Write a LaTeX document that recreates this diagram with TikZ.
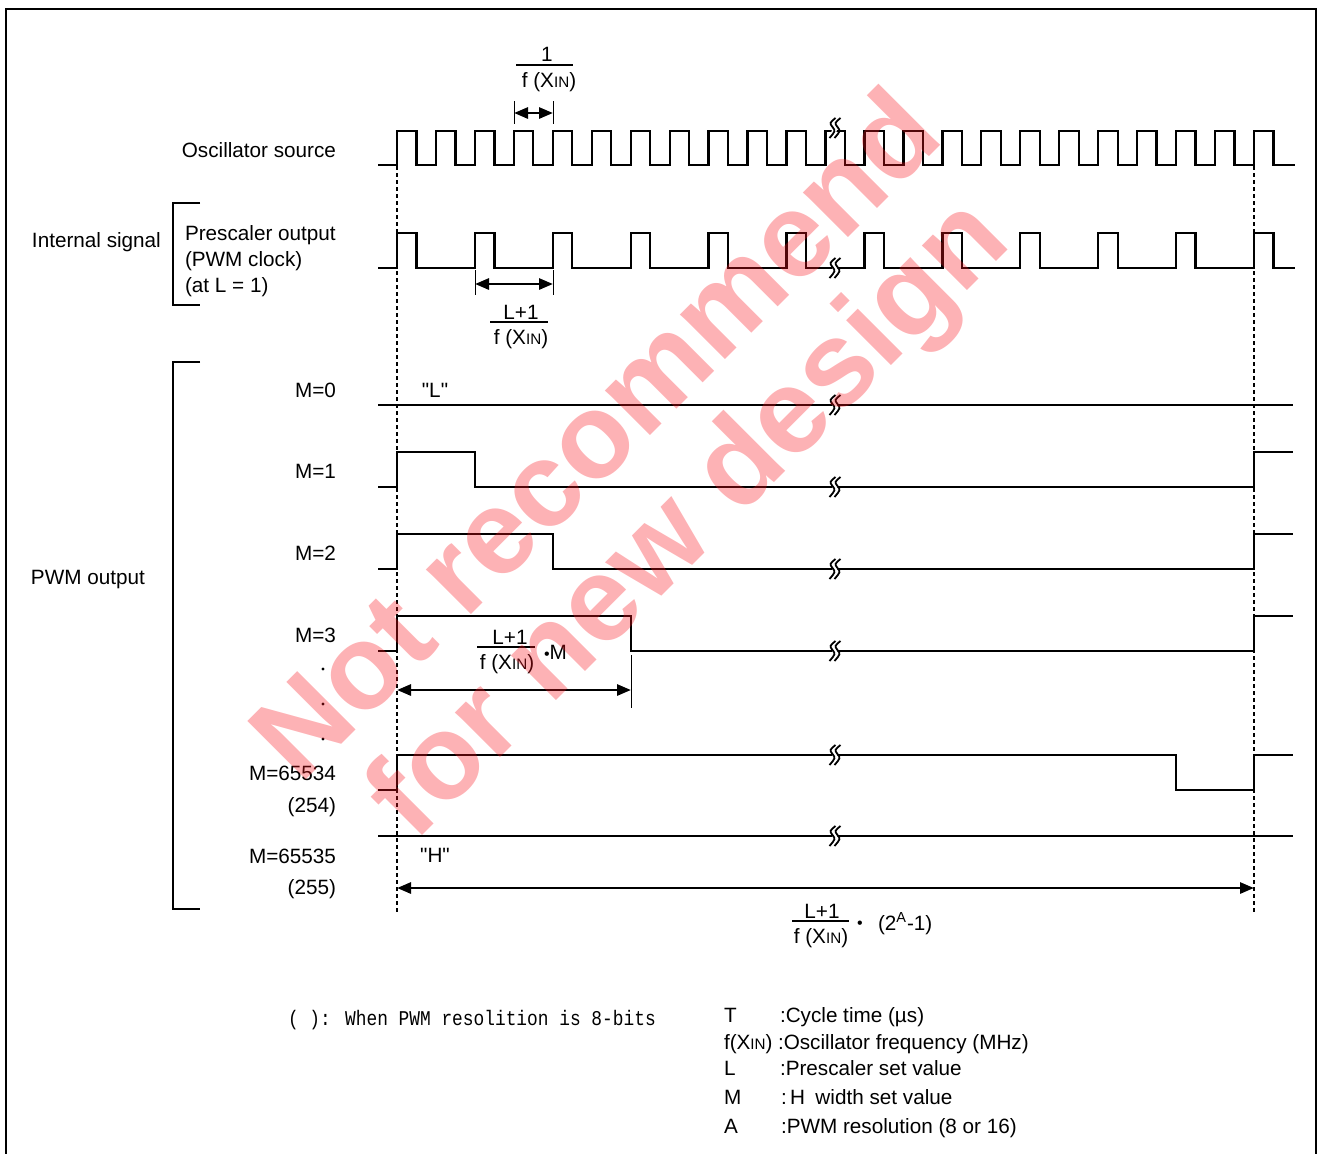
\documentclass[tikz,border=0pt]{standalone}
\usepackage{fontspec}
\setmainfont{Liberation Sans}[Ligatures=TeXOff]
\newfontfamily\notefont[FakeStretch=0.85]{Liberation Mono}
\usetikzlibrary{arrows.meta}
\definecolor{wmred}{RGB}{250,20,30}

\newcommand{\xin}{X{\fontsize{7.6}{8}\selectfont IN}}
\newcommand{\mdot}{{\fontsize{8}{8}\selectfont\textbullet}}

\begin{document}
\begin{tikzpicture}[x=0.5pt, y=-0.5pt, line width=1pt,
    lbl/.style={font=\fontsize{10.35}{12}\selectfont, inner sep=0pt},
    wave/.style={line width=1.15pt, line join=miter},
    guide/.style={dash pattern=on 2pt off 1.5pt, line width=0.8pt},
    dim/.style={{Triangle[length=7pt,width=5.5pt]}-{Triangle[length=7pt,width=5.5pt]}, line width=1.4pt},
    tick/.style={line width=0.5pt},
    bar/.style={line width=0.6pt},
    brk/.pic={
        \fill[white] (0.5,-10) -- (5.5,-10) -- (-0.5,10) -- (-5.5,10) -- cycle;
        \foreach \d in {-2.5,2.5}
            \draw[line width=0.9pt] (\d+3,-10) .. controls (\d-3,-5) .. (\d,-1) .. controls (\d+3,3) .. (\d-3,10);
    }]
    \useasboundingbox (0,0) rectangle (1318,1153);
    \draw[line width=1.1pt] (6,9) rectangle (1316,1165);

    % oscillator and prescaler
    \draw[wave] (378,165) -- (397,165)
        \foreach \k in {0,...,21} { -- ++(0,-34) -- ++(19.477,0) -- ++(0,34) -- ++(19.477,0) }
        -- ++(0,-34) -- ++(19.5,0) -- ++(0,34) -- (1295,165);
    \draw[wave] (378,268) -- (397,268)
        \foreach \k in {0,...,10} { -- ++(0,-35) -- ++(19.477,0) -- ++(0,35) -- ++(58.432,0) }
        -- ++(0,-35) -- ++(19.5,0) -- ++(0,35) -- (1295,268);

    % pwm outputs
    \draw[wave] (378,405) -- (1293,405);
    \foreach \m/\lo in {1/487, 2/569, 3/651}
        \draw[wave] (378,\lo) -- (397,\lo) -- (397,\lo-35) -- (397+77.909*\m,\lo-35)
            -- (397+77.909*\m,\lo) -- (1254,\lo) -- (1254,\lo-35) -- (1293,\lo-35);
    \draw[wave] (378,790) -- (397,790) -- (397,755) -- (1176,755) -- (1176,790)
        -- (1254,790) -- (1254,755) -- (1293,755);
    \draw[wave] (378,836) -- (1293,836);

    \foreach \y in {128,268,405,487,569,651,755,836}
        \pic at (835,\y) {brk};

    \draw[guide] (397,166) -- (397,912);
    \draw[guide] (1254,166) -- (1254,912);

    % dimensions
    \coordinate (ta) at (514,113);
    \coordinate (tb) at (553,113);
    \draw[tick] (514,101) -- (514,124);
    \draw[tick] (553,101) -- (553,124);
    \draw[dim] (ta) -- (tb);
    \node[lbl, anchor=base] (n1num) at (547,61) {1};
    \draw[bar] (516,65) -- (573,65);
    \node[lbl, anchor=base] (n1den) at (549,87) {f (\xin)};

    \coordinate (pa) at (475,284);
    \coordinate (pb) at (553,284);
    \draw[tick] (475,270) -- (475,295);
    \draw[tick] (553,270) -- (553,295);
    \draw[dim] (pa) -- (pb);
    \node[lbl, anchor=base] (n2num) at (521,319) {L+1};
    \draw[bar] (490,322) -- (548,322);
    \node[lbl, anchor=base] (n2den) at (521,344) {f (\xin)};

    \coordinate (ma) at (397,690);
    \coordinate (mb) at (631,690);
    \draw[tick] (631,655) -- (631,708);
    \draw[dim] (ma) -- (mb);
    \node[lbl, anchor=base] (n3num) at (510,644) {L+1};
    \draw[bar] (477,647) -- (535,647);
    \node[lbl, anchor=base] (n3den) at (507,669) {f (\xin)};
    \node[lbl, anchor=base west] (n3m) at (543,659) {\mdot M};

    \coordinate (ba) at (397,888);
    \coordinate (bb) at (1254,888);
    \draw[dim] (ba) -- (bb);
    \node[lbl, anchor=base] (n4num) at (822,918) {L+1};
    \draw[bar] (792,921) -- (849,921);
    \node[lbl, anchor=base] (n4den) at (821,943) {f (\xin)};
    \node[lbl, anchor=base] (n4dot) at (860,928) {\mdot};
    \node[lbl, anchor=base west] (n4exp) at (877,930) {(2\textsuperscript{A}-1)};

    % left labels
    \node[lbl, anchor=base east] (osc) at (337,157) {Oscillator source};
    \node[lbl, anchor=base west] (intsig) at (31,247) {Internal signal};
    \draw (200,203) -- (173,203) -- (173,305) -- (200,305);
    \node[lbl, anchor=base west] (pre1) at (184,240) {Prescaler output};
    \node[lbl, anchor=base west] (pre2) at (184,266) {(PWM clock)};
    \node[lbl, anchor=base west] (pre3) at (184,292) {(at L = 1)};
    \node[lbl, anchor=base west] (pwm) at (30,584) {PWM output};
    \draw (200,362) -- (173,362) -- (173,909) -- (200,909);

    \node[lbl, anchor=base east] (m0) at (337,397) {M=0};
    \node[lbl, anchor=base east] (m1) at (337,478) {M=1};
    \node[lbl, anchor=base east] (m2) at (337,560) {M=2};
    \node[lbl, anchor=base east] (m3) at (337,642) {M=3};
    \node[lbl, anchor=base east] (m4) at (337,780) {M=65534};
    \node[lbl, anchor=base east] (m4b) at (337,812) {(254)};
    \node[lbl, anchor=base east] (m5) at (337,863) {M=65535};
    \node[lbl, anchor=base east] (m5b) at (337,894) {(255)};
    \foreach \y in {669,704,739}
        \fill (323,\y) circle (1.6);
    \node[lbl, anchor=base] (lowL) at (435,397) {"L"};
    \node[lbl, anchor=base] (highH) at (435,862) {"H"};

    % notes
    \node[inner sep=0pt, anchor=base west, font={\notefont\fontsize{10.5}{12}\selectfont}] (note)
        at (287,1025) {( ): When PWM resolition is 8-bits};
    \node[lbl, anchor=base west] (kT) at (723,1022) {T};
    \node[lbl, anchor=base west] (vT) at (779,1022) {:Cycle time (µs)};
    \node[lbl, anchor=base west] (kF) at (723,1049) {f(\xin)};
    \node[lbl, anchor=base west] (vF) at (777,1049) {:Oscillator frequency (MHz)};
    \node[lbl, anchor=base west] (kL) at (723,1075) {L};
    \node[lbl, anchor=base west] (vL) at (779,1075) {:Prescaler set value};
    \node[lbl, anchor=base west] (kM) at (723,1104) {M};
    \node[lbl, anchor=base west] (vM) at (780,1104) {:\,H\enspace width set value};
    \node[lbl, anchor=base west] (kA) at (723,1133) {A};
    \node[lbl, anchor=base west] (vA) at (780,1133) {:PWM resolution (8 or 16)};

    % watermark
    \node[rotate=45, opacity=0.33, text=wmred, inner sep=0pt,
        font=\fontsize{60}{60}\selectfont\bfseries] (wm1) at (593,432) {Not recommend};
    \node[rotate=45, opacity=0.33, text=wmred, inner sep=0pt,
        font=\fontsize{60}{60}\selectfont\bfseries] (wm2) at (692,522) {for new design};
\end{tikzpicture}
\end{document}
